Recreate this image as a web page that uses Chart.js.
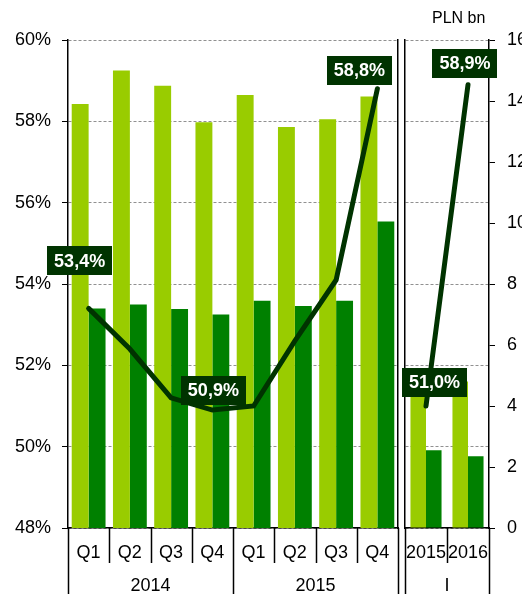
<!DOCTYPE html>
<html>
<head>
<meta charset="utf-8">
<script src="https://cdn.jsdelivr.net/npm/chart.js@4.4.1/dist/chart.umd.min.js"></script>
<style>
  body { margin: 0; background: #fff; }
  #wrap { position: relative; width: 522px; height: 594px; overflow: hidden; background: #fff; }
  canvas { position: absolute; top: 0; }
  #graph1 { left: 0; }
  #graph2 { left: 401px; }
  #unit { position: absolute; left: 432px; top: 9px; font: 16px 'Liberation Sans', Arial, sans-serif; color: #000; }
</style>
</head>
<body>
<div id="wrap">
  <canvas id="graph1" width="401" height="594"></canvas>
  <canvas id="graph2" width="121" height="594"></canvas>
  <div id="unit">PLN bn</div>
</div>
<script>
// quarterly panel
const quarters = ['Q1', 'Q2', 'Q3', 'Q4', 'Q1', 'Q2', 'Q3', 'Q4'];
const quarterYears = ['2014', '2015'];
const lightQ = [13.9, 15.0, 14.5, 13.3, 14.2, 13.15, 13.4, 14.15];
const darkQ = [7.2, 7.33, 7.18, 7.0, 7.45, 7.28, 7.45, 10.05];
const shareQ = [53.4, 52.4, 51.2, 50.9, 51.0, 52.6, 54.1, 58.8];
const labelledQ = [0, 3, 7];

// january panel
const janYears = ['2015', '2016'];
const janGroup = ['I'];
const lightJan = [4.8, 4.8];
const darkJan = [2.55, 2.35];
const shareJan = [51.0, 58.9];
const labelledJan = [0, 1];

const pctMin = 48, pctMax = 60, pctStep = 2;
const plnMin = 0, plnMax = 16, plnStep = 2;

const LIGHT = '#99CC00';
const DARK = '#008000';
const LINE = '#003300';
const FONT = "'Liberation Sans', Arial, sans-serif";

Chart.defaults.font.family = FONT;
Chart.defaults.font.size = 18;
Chart.defaults.color = '#000';

const fmt = v => v.toFixed(1).replace('.', ',') + '%';

// separators, group captions and value boxes
const extras = {
  id: 'extras',
  afterDraw(chart, args, opts) {
    const ctx = chart.ctx;
    const x = chart.scales.x;
    const n = chart.data.labels.length;
    const w = (x.right - x.left) / n;
    const top = chart.chartArea.bottom;
    ctx.save();
    ctx.strokeStyle = '#000';
    ctx.lineWidth = 1.5;
    ctx.beginPath();
    for (let i = 0; i <= n; i++) {
      const px = Math.round(x.left + i * w) + 0.5;
      const long = i % opts.span === 0;
      ctx.moveTo(px, top);
      ctx.lineTo(px, long ? chart.height : top + 35);
    }
    ctx.stroke();

    ctx.fillStyle = '#000';
    ctx.font = '18px ' + FONT;
    ctx.textAlign = 'center';
    ctx.textBaseline = 'middle';
    opts.groups.forEach((g, k) => {
      const cx = x.left + (k + 0.5) * opts.span * w;
      ctx.fillText(g, cx, 586);
    });

    const pts = chart.getDatasetMeta(2).data;
    const vals = chart.data.datasets[2].data;
    ctx.font = 'bold 18px ' + FONT;
    opts.points.forEach((idx, k) => {
      const p = pts[idx];
      const txt = fmt(vals[idx]);
      const bw = ctx.measureText(txt).width + 14;
      const bh = 29;
      const cx = p.x + opts.offsets[k][0];
      const cy = p.y + opts.offsets[k][1];
      ctx.fillStyle = LINE;
      ctx.fillRect(Math.round(cx - bw / 2), Math.round(cy - bh / 2), Math.round(bw), bh);
      ctx.fillStyle = '#fff';
      ctx.fillText(txt, cx, cy + 1);
    });
    ctx.restore();
  }
};

function datasets(light, dark, share) {
  return [
    { type: 'bar', data: light, backgroundColor: LIGHT, yAxisID: 'y1', order: 1 },
    { type: 'bar', data: dark, backgroundColor: DARK, yAxisID: 'y1', order: 1 },
    { type: 'line', data: share, borderColor: LINE, borderWidth: 5, pointRadius: 0,
      tension: 0, borderCapStyle: 'round', yAxisID: 'y', order: 0 }
  ];
}

const xAxis = {
  offset: true,
  grid: { display: false },
  border: { color: '#000', width: 1.5 },
  ticks: { padding: 0, maxRotation: 0, autoSkip: false, font: { lineHeight: 1.87 } },
  afterFit: s => { s.height = 66; }
};

const graph1 = new Chart(document.getElementById('graph1'), {
  data: { labels: quarters, datasets: datasets(lightQ, darkQ, shareQ) },
  options: {
    responsive: false,
    animation: false,
    devicePixelRatio: 1,
    layout: { padding: { top: 40, right: 3, left: 0, bottom: 0 } },
    datasets: { bar: { categoryPercentage: 0.82, barPercentage: 1 } },
    plugins: {
      legend: { display: false },
      tooltip: { enabled: false },
      extras: { span: 4, groups: quarterYears, points: labelledQ,
        offsets: [[-9, -47.5], [1, -20], [-18, -18.5]] }
    },
    scales: {
      x: xAxis,
      y: {
        position: 'left', min: pctMin, max: pctMax,
        ticks: { stepSize: pctStep, padding: 11, callback: v => v + '%' },
        grid: { color: '#909090', tickColor: '#000', tickLength: 6 },
        border: { color: '#000', width: 1.5, dash: [3, 2] },
        afterFit: s => { s.width = 68; }
      },
      y1: {
        position: 'right', min: plnMin, max: plnMax,
        ticks: { display: false, stepSize: plnStep },
        grid: { display: false },
        border: { color: '#000', width: 1.5 },
        afterFit: s => { s.width = 0; }
      }
    }
  },
  plugins: [extras]
});

const graph2 = new Chart(document.getElementById('graph2'), {
  data: { labels: janYears, datasets: datasets(lightJan, darkJan, shareJan) },
  options: {
    responsive: false,
    animation: false,
    devicePixelRatio: 1,
    layout: { padding: { top: 40, right: 0, left: 4, bottom: 0 } },
    datasets: { bar: { categoryPercentage: 0.74, barPercentage: 1 } },
    plugins: {
      legend: { display: false },
      tooltip: { enabled: false },
      extras: { span: 2, groups: janGroup, points: labelledJan,
        offsets: [[8.5, -24], [-3, -21.5]] }
    },
    scales: {
      x: xAxis,
      y: {
        position: 'left', min: pctMin, max: pctMax,
        ticks: { display: false, stepSize: pctStep },
        grid: { color: '#909090', drawTicks: false },
        border: { color: '#000', width: 1.5, dash: [3, 2] },
        afterFit: s => { s.width = 0; }
      },
      y1: {
        position: 'right', min: plnMin, max: plnMax,
        ticks: { stepSize: plnStep, padding: 12 },
        grid: { drawOnChartArea: false, tickColor: '#000', tickLength: 6 },
        border: { color: '#000', width: 1.5 },
        afterFit: s => { s.width = 33; }
      }
    }
  },
  plugins: [extras]
});
</script>
</body>
</html>
